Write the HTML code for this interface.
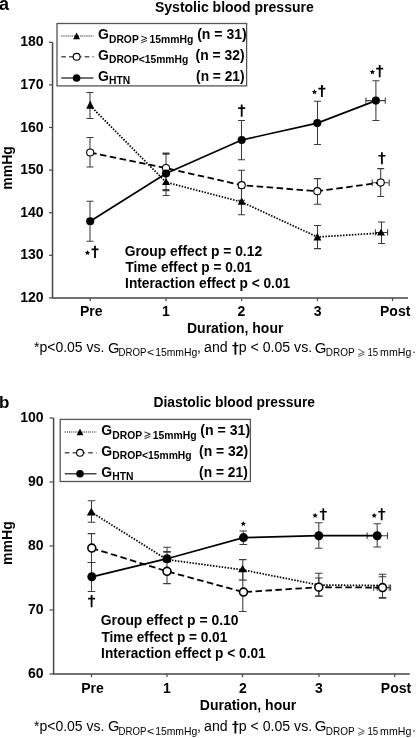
<!DOCTYPE html>
<html><head><meta charset="utf-8"><style>
html,body{margin:0;padding:0;background:#fff;}
svg{display:block;will-change:transform;font-family:"Liberation Sans", sans-serif;font-size:14px;font-weight:bold;fill:#000;}
</style></head><body>
<svg width="416" height="738" viewBox="0 0 416 738">
<text x="-1" y="10" font-size="18">a</text>
<text x="155" y="11.8">Systolic blood pressure</text>
<path d="M52.55 42.3V297.9H408" fill="none" stroke="#464646" stroke-width="1.5"/>
<line x1="49" y1="42.30" x2="52.55" y2="42.30" stroke="#464646" stroke-width="1.2"/>
<text x="43.6" y="46.30" text-anchor="end">180</text>
<line x1="49" y1="84.90" x2="52.55" y2="84.90" stroke="#464646" stroke-width="1.2"/>
<text x="43.6" y="88.90" text-anchor="end">170</text>
<line x1="49" y1="127.50" x2="52.55" y2="127.50" stroke="#464646" stroke-width="1.2"/>
<text x="43.6" y="131.50" text-anchor="end">160</text>
<line x1="49" y1="170.10" x2="52.55" y2="170.10" stroke="#464646" stroke-width="1.2"/>
<text x="43.6" y="174.10" text-anchor="end">150</text>
<line x1="49" y1="212.70" x2="52.55" y2="212.70" stroke="#464646" stroke-width="1.2"/>
<text x="43.6" y="216.70" text-anchor="end">140</text>
<line x1="49" y1="255.30" x2="52.55" y2="255.30" stroke="#464646" stroke-width="1.2"/>
<text x="43.6" y="259.30" text-anchor="end">130</text>
<line x1="49" y1="297.90" x2="52.55" y2="297.90" stroke="#464646" stroke-width="1.2"/>
<text x="43.6" y="301.90" text-anchor="end">120</text>
<line x1="90.2" y1="297.9" x2="90.2" y2="300.9" stroke="#464646" stroke-width="1.2"/>
<line x1="166" y1="297.9" x2="166" y2="300.9" stroke="#464646" stroke-width="1.2"/>
<line x1="241.7" y1="297.9" x2="241.7" y2="300.9" stroke="#464646" stroke-width="1.2"/>
<line x1="317.5" y1="297.9" x2="317.5" y2="300.9" stroke="#464646" stroke-width="1.2"/>
<line x1="392.5" y1="297.9" x2="392.5" y2="300.9" stroke="#464646" stroke-width="1.2"/>
<text x="91.2" y="316.1" text-anchor="middle">Pre</text>
<text x="166" y="316.1" text-anchor="middle">1</text>
<text x="241.5" y="316.1" text-anchor="middle">2</text>
<text x="317.6" y="316.1" text-anchor="middle">3</text>
<text x="395.2" y="316.1" text-anchor="middle">Post</text>
<text x="235.2" y="332.9" text-anchor="middle">Duration, hour</text>
<text x="0" y="0" text-anchor="middle" transform="translate(11.8 167.9) rotate(-90)">mmHg</text>
<path d="M90.0 92.5V118.4M86.5 92.5h7.0M86.5 118.4h7.0" stroke="#3c3c3c" stroke-width="1.05" fill="none"/>
<path d="M90.0 137.5V167M86.5 137.5h7.0M86.5 167h7.0" stroke="#3c3c3c" stroke-width="1.05" fill="none"/>
<path d="M90.0 201.25V241.25M86.5 201.25h7.0M86.5 241.25h7.0" stroke="#3c3c3c" stroke-width="1.05" fill="none"/>
<path d="M166 153.1V195.4M162.5 153.1h7.0M162.5 154.3h7.0M162.5 189.6h7.0M162.5 190.6h7.0M162.5 195.4h7.0" stroke="#3c3c3c" stroke-width="1.05" fill="none"/>
<path d="M241.5 120.5V159.7M238.0 120.5h7.0M238.0 159.7h7.0" stroke="#3c3c3c" stroke-width="1.05" fill="none"/>
<path d="M241.5 170.2V200.2M238.0 170.2h7.0M238.0 200.2h7.0" stroke="#3c3c3c" stroke-width="1.05" fill="none"/>
<path d="M241.5 188.3V214.7M238.0 188.3h7.0M238.0 214.7h7.0" stroke="#3c3c3c" stroke-width="1.05" fill="none"/>
<path d="M317.5 101.2V144.4M314.0 101.2h7.0M314.0 144.4h7.0" stroke="#3c3c3c" stroke-width="1.05" fill="none"/>
<path d="M317.5 178.6V204.2M314.0 178.6h7.0M314.0 204.2h7.0" stroke="#3c3c3c" stroke-width="1.05" fill="none"/>
<path d="M317.5 225.5V248.6M314.0 225.5h7.0M314.0 248.6h7.0" stroke="#3c3c3c" stroke-width="1.05" fill="none"/>
<path d="M375.9 80.7V120.5M372.4 80.7h7.0M372.4 120.5h7.0" stroke="#3c3c3c" stroke-width="1.05" fill="none"/>
<path d="M365.9 100.6H385.3M365.9 97.39999999999999v6.4M385.3 97.39999999999999v6.4" stroke="#3c3c3c" stroke-width="1.05" fill="none"/>
<path d="M380.7 168.6V196.5M377.2 168.6h7.0M377.2 196.5h7.0" stroke="#3c3c3c" stroke-width="1.05" fill="none"/>
<path d="M372.2 182.8H389.2M372.2 179.60000000000002v6.4M389.2 179.60000000000002v6.4" stroke="#3c3c3c" stroke-width="1.05" fill="none"/>
<path d="M381.5 222.0V243.4M378.0 222.0h7.0M378.0 243.4h7.0" stroke="#3c3c3c" stroke-width="1.05" fill="none"/>
<path d="M375.4 232.4H387.6M375.4 229.20000000000002v6.4M387.6 229.20000000000002v6.4" stroke="#3c3c3c" stroke-width="1.05" fill="none"/>
<polyline points="90.2,105.7 166,182.2 241.7,202 317.4,237 381,233" fill="none" stroke="#000" stroke-width="1.75" stroke-dasharray="1.5 1.45"/>
<polyline points="90.2,152.5 166,168.1 241.7,185.2 317.3,191.2 380.7,182.6" fill="none" stroke="#000" stroke-width="1.8" stroke-dasharray="6.5 3.5"/>
<polyline points="90.2,221.3 166,173.5 241.7,140.0 317.3,123.1 375.9,100.6" fill="none" stroke="#000" stroke-width="1.7"/>
<path d="M90.2 100.5L94.20 108.75H86.20Z" fill="#000"/>
<path d="M166 178.1L170.00 185H162.00Z" fill="#000"/>
<path d="M241.7 197.4L245.70 204.7H237.70Z" fill="#000"/>
<path d="M317.4 232.7L321.40 240.5H313.40Z" fill="#000"/>
<path d="M381 228.7L385.00 235.6H377.00Z" fill="#000"/>
<circle cx="90.2" cy="152.5" r="3.55" fill="#fff" stroke="#000" stroke-width="1.1"/>
<circle cx="166" cy="168.1" r="3.55" fill="#fff" stroke="#000" stroke-width="1.1"/>
<circle cx="241.7" cy="185.2" r="3.55" fill="#fff" stroke="#000" stroke-width="1.1"/>
<circle cx="317.3" cy="191.2" r="3.55" fill="#fff" stroke="#000" stroke-width="1.1"/>
<circle cx="380.7" cy="182.6" r="3.55" fill="#fff" stroke="#000" stroke-width="1.1"/>
<circle cx="90.2" cy="221.3" r="4.05" fill="#000"/>
<circle cx="166" cy="173.5" r="4.05" fill="#000"/>
<circle cx="241.7" cy="140.0" r="4.05" fill="#000"/>
<circle cx="317.3" cy="123.1" r="4.05" fill="#000"/>
<circle cx="375.9" cy="100.6" r="4.05" fill="#000"/>
<path d="M94.10 245.80h1.8v12.1h-1.8zM91.50 248.50h7.0v1.7h-7.0z" fill="#000"/>
<polygon points="87.50,249.90 88.23,251.79 90.26,251.90 88.69,253.19 89.20,255.15 87.50,254.05 85.80,255.15 86.31,253.19 84.74,251.90 86.77,251.79" fill="#000"/>
<path d="M240.80 104.60h1.8v12.1h-1.8zM238.20 107.30h7.0v1.7h-7.0z" fill="#000"/>
<path d="M321.00 85.00h1.8v12.1h-1.8zM318.40 87.70h7.0v1.7h-7.0z" fill="#000"/>
<polygon points="314.50,89.00 315.23,90.89 317.26,91.00 315.69,92.29 316.20,94.25 314.50,93.15 312.80,94.25 313.31,92.29 311.74,91.00 313.77,90.89" fill="#000"/>
<path d="M378.80 65.10h1.8v12.1h-1.8zM376.20 67.80h7.0v1.7h-7.0z" fill="#000"/>
<polygon points="372.40,69.20 373.13,71.09 375.16,71.20 373.59,72.49 374.10,74.45 372.40,73.35 370.70,74.45 371.21,72.49 369.64,71.20 371.67,71.09" fill="#000"/>
<path d="M381.00 152.20h1.8v12.1h-1.8zM378.40 154.90h7.0v1.7h-7.0z" fill="#000"/>
<rect x="57" y="23.5" width="189.6" height="62.400000000000006" fill="#fff" stroke="#555" stroke-width="1.3"/>
<line x1="61.3" y1="36" x2="93.5" y2="36" stroke="#666" stroke-width="1.3" stroke-dasharray="1.1 1"/>
<path d="M76.6 32.56L80.00 39.36H73.20Z" fill="#000"/>
<text x="98" y="39.4">G</text>
<text x="109" y="42.699999999999996" font-size="10.3">DROP</text>
<path d="M141.20 36.00L147.00 38.30L141.20 40.61M147.00 40.48L141.20 42.78" fill="none" stroke="#222" stroke-width="1.0"/>
<text x="149.5" y="42.699999999999996" font-size="10.4">15mmHg</text>
<text x="197.20" y="39.40" textLength="49.46" lengthAdjust="spacingAndGlyphs">(n = 31)</text>
<line x1="61.3" y1="56.8" x2="93.5" y2="56.8" stroke="#555" stroke-width="1.4" stroke-dasharray="4.6 3.2"/>
<circle cx="76.6" cy="56.8" r="3.45" fill="#fff" stroke="#000" stroke-width="1.1"/>
<text x="98" y="60">G</text>
<text x="109" y="63.3" font-size="10.3">DROP&lt;15mmHg</text>
<text x="195.61" y="60.00" textLength="48.94" lengthAdjust="spacingAndGlyphs">(n = 32)</text>
<line x1="61.3" y1="78" x2="93.5" y2="78" stroke="#444" stroke-width="1.5"/>
<circle cx="76.6" cy="78" r="3.8" fill="#000"/>
<text x="98" y="80.7">G</text>
<text x="109" y="84.0" font-size="10.3">HTN</text>
<text x="196.11" y="80.70" textLength="48.43" lengthAdjust="spacingAndGlyphs">(n = 21)</text>
<text x="124.71" y="255.60" textLength="137.41" lengthAdjust="spacingAndGlyphs">Group effect p = 0.12</text>
<text x="125.45" y="271.90" textLength="126.44" lengthAdjust="spacingAndGlyphs">Time effect p = 0.01</text>
<text x="125.12" y="288.40" textLength="165.07" lengthAdjust="spacingAndGlyphs">Interaction effect p &lt; 0.01</text>
<text x="34" y="352.3" font-weight="normal">*p&lt;0.05 vs.</text>
<text x="108.00" y="352.50" font-size="14.8" font-weight="normal" textLength="11.51" lengthAdjust="spacingAndGlyphs">G</text>
<text x="118.49" y="355.90" font-size="10.8" font-weight="normal" textLength="27.90" lengthAdjust="spacingAndGlyphs">DROP</text>
<text x="146.98" y="355.90" font-size="10" font-weight="normal" textLength="7.22" lengthAdjust="spacingAndGlyphs">&lt;</text>
<text x="155.20" y="355.90" font-size="11" font-weight="normal" textLength="42.08" lengthAdjust="spacingAndGlyphs">15mmHg</text>
<text x="196.95" y="352.30" font-weight="normal">,</text>
<text x="204.09" y="352.30" font-weight="normal" textLength="23.63" lengthAdjust="spacingAndGlyphs">and</text>
<path d="M234.50 342.30h1.8v12.4h-1.8zM232.30 345.00h6.2v1.3h-6.2z" fill="#000"/>
<text x="238.79" y="352.30" font-weight="normal" textLength="73.39" lengthAdjust="spacingAndGlyphs">p &lt; 0.05 vs.</text>
<text x="314.84" y="352.50" font-size="14.8" font-weight="normal" textLength="11.69" lengthAdjust="spacingAndGlyphs">G</text>
<text x="325.80" y="355.90" font-size="10.6" font-weight="normal" textLength="28.95" lengthAdjust="spacingAndGlyphs">DROP</text>
<path d="M358.20 349.20L364.30 352.30L358.20 354.60M364.30 354.20L358.20 356.50" fill="none" stroke="#444" stroke-width="0.85"/>
<text x="367.47" y="355.90" font-size="10.6" font-weight="normal" textLength="10.73" lengthAdjust="spacingAndGlyphs">15</text>
<text x="380.10" y="355.90" font-size="10.6" font-weight="normal" textLength="31.21" lengthAdjust="spacingAndGlyphs">mmHg</text>
<circle cx="414" cy="352.2" r="0.8" fill="#222"/>
<text x="-1" y="408.2" font-size="17">b</text>
<text x="153.51" y="407.30" textLength="161.46" lengthAdjust="spacingAndGlyphs">Diastolic blood pressure</text>
<path d="M53.6 418V674H409.8" fill="none" stroke="#464646" stroke-width="1.5"/>
<line x1="49.5" y1="418.00" x2="53.6" y2="418.00" stroke="#464646" stroke-width="1.2"/>
<text x="43.5" y="422.00" text-anchor="end">100</text>
<line x1="49.5" y1="482.00" x2="53.6" y2="482.00" stroke="#464646" stroke-width="1.2"/>
<text x="43.5" y="486.00" text-anchor="end">90</text>
<line x1="49.5" y1="546.00" x2="53.6" y2="546.00" stroke="#464646" stroke-width="1.2"/>
<text x="43.5" y="550.00" text-anchor="end">80</text>
<line x1="49.5" y1="610.00" x2="53.6" y2="610.00" stroke="#464646" stroke-width="1.2"/>
<text x="43.5" y="614.00" text-anchor="end">70</text>
<line x1="49.5" y1="674.00" x2="53.6" y2="674.00" stroke="#464646" stroke-width="1.2"/>
<text x="43.5" y="678.00" text-anchor="end">60</text>
<line x1="91.5" y1="674" x2="91.5" y2="677" stroke="#464646" stroke-width="1.2"/>
<line x1="167" y1="674" x2="167" y2="677" stroke="#464646" stroke-width="1.2"/>
<line x1="242.5" y1="674" x2="242.5" y2="677" stroke="#464646" stroke-width="1.2"/>
<line x1="319" y1="674" x2="319" y2="677" stroke="#464646" stroke-width="1.2"/>
<line x1="394.7" y1="674" x2="394.7" y2="677" stroke="#464646" stroke-width="1.2"/>
<text x="92.5" y="692.6" text-anchor="middle">Pre</text>
<text x="167" y="692.6" text-anchor="middle">1</text>
<text x="243" y="692.6" text-anchor="middle">2</text>
<text x="318.8" y="692.6" text-anchor="middle">3</text>
<text x="396" y="692.6" text-anchor="middle">Post</text>
<text x="248" y="709.8" text-anchor="middle">Duration, hour</text>
<text x="0" y="0" text-anchor="middle" transform="translate(11.8 543.1) rotate(-90)">mmHg</text>
<path d="M91.5 500.8V522.2M87.7 500.8h7.6M87.7 522.2h7.6" stroke="#3c3c3c" stroke-width="1.05" fill="none"/>
<path d="M91.5 533.6V562.5M87.7 533.6h7.6M87.7 562.5h7.6" stroke="#3c3c3c" stroke-width="1.05" fill="none"/>
<path d="M91.5 562.5V591.4M87.7 562.5h7.6M87.7 591.4h7.6" stroke="#3c3c3c" stroke-width="1.05" fill="none"/>
<path d="M167 547.2V583.6M163.2 547.2h7.6M163.2 551.6h7.6M163.2 552.2h7.6M163.2 583.6h7.6" stroke="#3c3c3c" stroke-width="1.05" fill="none"/>
<path d="M243.3 531V544.4M239.5 531h7.6M239.5 544.4h7.6" stroke="#3c3c3c" stroke-width="1.05" fill="none"/>
<path d="M242.8 559.6V580.1M239.0 559.6h7.6M239.0 580.1h7.6" stroke="#3c3c3c" stroke-width="1.05" fill="none"/>
<path d="M242.8 571V611.4M239.0 571h7.6M239.0 611.4h7.6" stroke="#3c3c3c" stroke-width="1.05" fill="none"/>
<path d="M318.8 522.7V548.2M315.0 522.7h7.6M315.0 548.2h7.6" stroke="#3c3c3c" stroke-width="1.05" fill="none"/>
<path d="M318.8 573.3V596.3M315.0 573.3h7.6M315.0 596.3h7.6" stroke="#3c3c3c" stroke-width="1.05" fill="none"/>
<path d="M318.8 578V596M315.0 578h7.6M315.0 596h7.6" stroke="#3c3c3c" stroke-width="1.05" fill="none"/>
<path d="M377.2 523.7V546.9M373.4 523.7h7.6M373.4 546.9h7.6" stroke="#3c3c3c" stroke-width="1.05" fill="none"/>
<path d="M367.2 535.7H387.5M367.2 532.5v6.4M387.5 532.5v6.4" stroke="#3c3c3c" stroke-width="1.05" fill="none"/>
<path d="M382.5 574.2V598.3M378.7 574.2h7.6M378.7 576.8h7.6M378.7 597.6h7.6M378.7 598.3h7.6" stroke="#3c3c3c" stroke-width="1.05" fill="none"/>
<path d="M373.7 587.6H390.6M373.7 584.4v6.4M377.2 584.4v6.4M389.1 584.4v6.4M390.6 584.4v6.4" stroke="#3c3c3c" stroke-width="1.05" fill="none"/>
<polyline points="91.3,512.1 167,559.6 243,569.9 318.8,585 382.3,585.6" fill="none" stroke="#000" stroke-width="1.75" stroke-dasharray="1.5 1.45"/>
<polyline points="91.8,548.1 167,571.3 243.5,592.1 318.8,587.2 382.5,587.6" fill="none" stroke="#000" stroke-width="1.8" stroke-dasharray="6.5 3.5"/>
<polyline points="91.8,576.8 167,558.7 243.5,537.6 318.8,535.7 377.2,535.7" fill="none" stroke="#000" stroke-width="1.7"/>
<path d="M91.3 507.8L95.80 515.6H86.80Z" fill="#000"/>
<path d="M167 555.5L171.50 562.3H162.50Z" fill="#000"/>
<path d="M242.6 565.1L247.10 572.3H238.10Z" fill="#000"/>
<circle cx="91.8" cy="548.1" r="3.95" fill="#fff" stroke="#000" stroke-width="1.6"/>
<circle cx="167" cy="571.3" r="3.95" fill="#fff" stroke="#000" stroke-width="1.6"/>
<circle cx="243.5" cy="592.1" r="3.95" fill="#fff" stroke="#000" stroke-width="1.6"/>
<circle cx="318.8" cy="587.2" r="3.95" fill="#fff" stroke="#000" stroke-width="1.6"/>
<circle cx="382.5" cy="587.6" r="3.95" fill="#fff" stroke="#000" stroke-width="1.6"/>
<circle cx="91.8" cy="576.8" r="4.5" fill="#000"/>
<circle cx="167" cy="558.7" r="4.5" fill="#000"/>
<circle cx="243.5" cy="537.6" r="4.5" fill="#000"/>
<circle cx="318.8" cy="535.7" r="4.5" fill="#000"/>
<circle cx="377.2" cy="535.7" r="4.5" fill="#000"/>
<path d="M90.70 595.10h1.8v12.1h-1.8zM88.10 597.80h7.0v1.7h-7.0z" fill="#000"/>
<polygon points="243.30,520.90 244.03,522.79 246.06,522.90 244.49,524.19 245.00,526.15 243.30,525.05 241.60,526.15 242.11,524.19 240.54,522.90 242.57,522.79" fill="#000"/>
<path d="M322.40 508.20h1.8v12.1h-1.8zM319.80 510.90h7.0v1.7h-7.0z" fill="#000"/>
<polygon points="315.10,512.70 315.83,514.59 317.86,514.70 316.29,515.99 316.80,517.95 315.10,516.85 313.40,517.95 313.91,515.99 312.34,514.70 314.37,514.59" fill="#000"/>
<path d="M380.80 508.20h1.8v12.1h-1.8zM378.20 510.90h7.0v1.7h-7.0z" fill="#000"/>
<polygon points="374.20,512.70 374.93,514.59 376.96,514.70 375.39,515.99 375.90,517.95 374.20,516.85 372.50,517.95 373.01,515.99 371.44,514.70 373.47,514.59" fill="#000"/>
<rect x="60.2" y="419.4" width="190.2" height="62.10000000000002" fill="#fff" stroke="#555" stroke-width="1.3"/>
<line x1="64.8" y1="432" x2="96.5" y2="432" stroke="#666" stroke-width="1.3" stroke-dasharray="1.1 1"/>
<path d="M80 428.56L83.40 435.36H76.60Z" fill="#000"/>
<text x="101.3" y="435.3">G</text>
<text x="112.3" y="438.6" font-size="10.3">DROP</text>
<path d="M144.50 431.90L150.30 434.20L144.50 436.51M150.30 436.38L144.50 438.68" fill="none" stroke="#222" stroke-width="1.0"/>
<text x="152.8" y="438.6" font-size="10.4">15mmHg</text>
<text x="200.39" y="435.30" textLength="49.76" lengthAdjust="spacingAndGlyphs">(n = 31)</text>
<line x1="64.8" y1="452.8" x2="96.5" y2="452.8" stroke="#555" stroke-width="1.4" stroke-dasharray="4.6 3.2"/>
<circle cx="80" cy="452.8" r="3.45" fill="#fff" stroke="#000" stroke-width="1.1"/>
<text x="101.3" y="455.8">G</text>
<text x="112.3" y="459.1" font-size="10.3">DROP&lt;15mmHg</text>
<text x="199.11" y="455.80" textLength="49.04" lengthAdjust="spacingAndGlyphs">(n = 32)</text>
<line x1="64.8" y1="473.8" x2="96.5" y2="473.8" stroke="#444" stroke-width="1.5"/>
<circle cx="80" cy="473.8" r="3.8" fill="#000"/>
<text x="101.3" y="476.5">G</text>
<text x="112.3" y="479.8" font-size="10.3">HTN</text>
<text x="199.11" y="476.50" textLength="48.63" lengthAdjust="spacingAndGlyphs">(n = 21)</text>
<text x="100.70" y="624.90" textLength="137.76" lengthAdjust="spacingAndGlyphs">Group effect p = 0.10</text>
<text x="101.45" y="641.60" textLength="125.84" lengthAdjust="spacingAndGlyphs">Time effect p = 0.01</text>
<text x="101.12" y="658.00" textLength="164.57" lengthAdjust="spacingAndGlyphs">Interaction effect p &lt; 0.01</text>
<text x="34" y="731.1" font-weight="normal">*p&lt;0.05 vs.</text>
<text x="108.00" y="731.30" font-size="14.8" font-weight="normal" textLength="11.51" lengthAdjust="spacingAndGlyphs">G</text>
<text x="118.49" y="734.70" font-size="10.8" font-weight="normal" textLength="27.90" lengthAdjust="spacingAndGlyphs">DROP</text>
<text x="146.98" y="734.70" font-size="10" font-weight="normal" textLength="7.22" lengthAdjust="spacingAndGlyphs">&lt;</text>
<text x="155.20" y="734.70" font-size="11" font-weight="normal" textLength="42.08" lengthAdjust="spacingAndGlyphs">15mmHg</text>
<text x="196.95" y="731.10" font-weight="normal">,</text>
<text x="204.09" y="731.10" font-weight="normal" textLength="23.63" lengthAdjust="spacingAndGlyphs">and</text>
<path d="M234.50 721.10h1.8v12.4h-1.8zM232.30 723.80h6.2v1.3h-6.2z" fill="#000"/>
<text x="238.79" y="731.10" font-weight="normal" textLength="73.39" lengthAdjust="spacingAndGlyphs">p &lt; 0.05 vs.</text>
<text x="314.84" y="731.30" font-size="14.8" font-weight="normal" textLength="11.69" lengthAdjust="spacingAndGlyphs">G</text>
<text x="325.80" y="734.70" font-size="10.6" font-weight="normal" textLength="28.95" lengthAdjust="spacingAndGlyphs">DROP</text>
<path d="M358.20 728.00L364.30 731.10L358.20 733.40M364.30 733.00L358.20 735.30" fill="none" stroke="#444" stroke-width="0.85"/>
<text x="367.47" y="734.70" font-size="10.6" font-weight="normal" textLength="10.73" lengthAdjust="spacingAndGlyphs">15</text>
<text x="380.10" y="734.70" font-size="10.6" font-weight="normal" textLength="31.21" lengthAdjust="spacingAndGlyphs">mmHg</text>
<circle cx="414" cy="731.0" r="0.8" fill="#222"/>
</svg></body></html>
